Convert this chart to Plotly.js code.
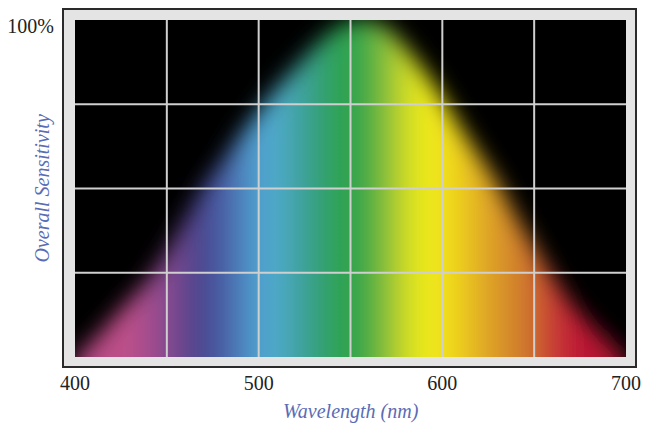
<!DOCTYPE html>
<html>
<head>
<meta charset="utf-8">
<script src="https://cdn.plot.ly/plotly-3.0.1.min.js"></script>
<style>html,body{margin:0;padding:0;background:#fff;}#chart{width:646px;height:433px;}</style>
</head>
<body>
<div id="chart"></div>
<script>
// Wavelength samples (nm) and read relative sensitivity (%)
const wavelengths = [400,410,420,430,440,450,460,470,480,490,500,510,520,530,540,550,560,570,580,590,600,610,620,630,640,650,660,670,680,690,700];
const sensitivity = [0,5,11,17,23,31,41,51,58,66,73,80,86,92,97,100,100,98,92,85,77,68,60,52,42,33,24,16,10,5,0];

// Spectrum colour stops (nm) and colours
const spectrumStops  = [400,429,449,467,482,499,509,527,542,554,568,579,592,605,623,648,659,672,681,700];
const spectrumColors = ['#b04880','#c0508a','#8a4a90','#4a438c','#4a62a8','#50a0d0','#50aacc','#3aa090','#2ea255','#2ea44a','#80bc3c','#c8d828','#f0ec18','#f0d81c','#e0a826','#cc702e','#c84034','#c01a36','#b81632','#a01030'];

// Axis ticks, grid and titles
const xTickVals = [400,500,600,700];
const xTickText = ['400','500','600','700'];
const yTickVals = [100];
const yTickText = ['100%'];
const xGrid = [450,500,550,600,650];
const yGrid = [25,50,75];
const xTitle = 'Wavelength (nm)';
const yTitle = 'Overall Sensitivity';
const baseline = -20;

const xMin = 400, xMax = 700;
const colorscale = spectrumStops.map((w,i)=>[(w-xMin)/(xMax-xMin), spectrumColors[i]]);

const polyX = wavelengths.concat([xMax, xMin]);
const polyY = sensitivity.concat([baseline, baseline]);

const trace = {
  type:'scatter', mode:'lines', x: polyX, y: polyY,
  fill:'toself', line:{width:0, color:'rgba(0,0,0,0)'},
  fillgradient:{type:'horizontal', colorscale: colorscale, start: xMin, stop: xMax},
  hoverinfo:'skip', showlegend:false
};

const shapes = [];
shapes.push({type:'rect', xref:'paper', yref:'paper', x0:-12/551, x1:1+10/551, y0:-10/337, y1:1+11/337,
  fillcolor:'#e4e4e4', line:{color:'#2a2a2a', width:2}, layer:'below'});
shapes.push({type:'rect', xref:'paper', yref:'paper', x0:0, x1:1, y0:0, y1:1,
  fillcolor:'#000000', line:{width:0}, layer:'below'});
xGrid.forEach(v=>shapes.push({type:'line', xref:'x', yref:'paper', x0:v, x1:v, y0:0, y1:1, line:{color:'#cfcfcf', width:2}, layer:'above'}));
yGrid.forEach(v=>shapes.push({type:'line', xref:'paper', yref:'y', x0:0, x1:1, y0:v, y1:v, line:{color:'#cfcfcf', width:2}, layer:'above'}));

const tickFont = {family:'Liberation Serif, serif', size:20, color:'#222222'};
const titleFont = {family:'Liberation Serif, serif', size:20, color:'#5a6cb5', style:'italic'};

const annotations = [
  {text:xTitle, xref:'paper', yref:'paper', x:0.5, y:-54/337, xanchor:'center', yanchor:'middle', showarrow:false, font:titleFont},
  {text:yTitle, xref:'paper', yref:'paper', x:-33/551, y:0.5, xanchor:'center', yanchor:'middle', textangle:-90, showarrow:false, font:titleFont}
];

const layout = {
  width:646, height:433,
  margin:{l:75, r:20, t:20, b:76},
  paper_bgcolor:'#ffffff', plot_bgcolor:'#000000',
  showlegend:false,
  xaxis:{range:[xMin,xMax], tickvals:xTickVals, ticktext:xTickText, showgrid:false, zeroline:false, showline:false,
    ticks:'', tickfont:tickFont, ticklabelstandoff:12, fixedrange:true},
  yaxis:{range:[0,100], tickvals:yTickVals, ticktext:yTickText, showgrid:false, zeroline:false, showline:false,
    ticks:'', tickfont:tickFont, ticklabelstandoff:20, ticklabelshift:6, fixedrange:true},
  shapes: shapes,
  annotations: annotations
};

Plotly.newPlot('chart', [trace], layout, {staticPlot:true}).then(function(){
  const svg = document.querySelector('#chart .main-svg');
  const ns = 'http://www.w3.org/2000/svg';
  let defs = svg.querySelector('defs');
  if(!defs){ defs = document.createElementNS(ns,'defs'); svg.insertBefore(defs, svg.firstChild); }
  const f = document.createElementNS(ns,'filter');
  f.setAttribute('id','specblur');
  f.setAttribute('x','-30%'); f.setAttribute('y','-30%');
  f.setAttribute('width','160%'); f.setAttribute('height','160%');
  const g = document.createElementNS(ns,'feGaussianBlur');
  g.setAttribute('stdDeviation','11');
  f.appendChild(g); defs.appendChild(f);
  document.querySelectorAll('#chart .scatterlayer .js-fill').forEach(p=>p.setAttribute('filter','url(#specblur)'));
});
</script>
</body>
</html>
